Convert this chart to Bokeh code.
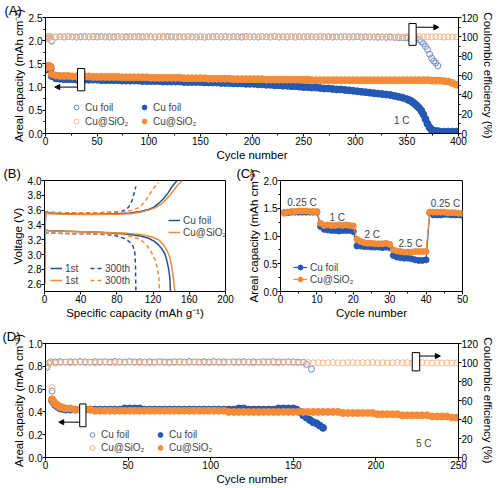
from bokeh.plotting import figure
from bokeh.models import (Range1d, LinearAxis, SingleIntervalTicker, PrintfTickFormatter,
                          Legend, LegendItem, Label, BoxAnnotation, Arrow, NormalHead, Title)
from bokeh.layouts import column, row
from bokeh.embed import file_html
from bokeh.resources import INLINE

# ---------------- Panel A (1 C cycling, 400 cycles) ----------------
a_cu_cap_x = [1, 2, 3, 4, 5] + list(range(6, 354, 4)) + list(range(352, 384, 2)) + list(range(386, 401, 4))
a_cu_cap = [1.38, 1.42, 1.43, 1.42, 1.40,
            1.24, 1.19, 1.18, 1.17, 1.17, 1.17, 1.16, 1.16, 1.16, 1.16,
            1.16, 1.16, 1.15, 1.15, 1.15, 1.15, 1.15, 1.14, 1.14, 1.14,
            1.14, 1.14, 1.13, 1.13, 1.13, 1.13, 1.13, 1.12, 1.12, 1.12,
            1.12, 1.12, 1.11, 1.11, 1.11, 1.11, 1.11, 1.10, 1.10, 1.10,
            1.10, 1.09, 1.09, 1.09, 1.08, 1.08, 1.08, 1.07, 1.07, 1.07,
            1.06, 1.06, 1.05, 1.05, 1.04, 1.04, 1.03, 1.03, 1.02, 1.02,
            1.01, 1.00, 1.00, 0.99, 0.99, 0.98, 0.97, 0.97, 0.96, 0.95,
            0.95, 0.94, 0.93, 0.92, 0.91, 0.90, 0.89, 0.88, 0.87, 0.86,
            0.85, 0.84, 0.83, 0.81, 0.79, 0.77, 0.74,
            0.72, 0.70, 0.67, 0.63, 0.59, 0.55, 0.49, 0.41, 0.31, 0.21, 0.13, 0.08, 0.06, 0.05, 0.05, 0.04,
            0.04, 0.04, 0.04, 0.04]

a_si_cap_x = [1, 2, 3, 4, 5] + list(range(6, 401, 4))
a_si_cap = [1.42, 1.45, 1.46, 1.45, 1.44,
            1.28, 1.25, 1.24, 1.24, 1.24, 1.23, 1.23, 1.23, 1.23, 1.23,
            1.22, 1.22, 1.22, 1.22, 1.22, 1.22, 1.22, 1.21, 1.21, 1.21,
            1.21, 1.21, 1.21, 1.21, 1.20, 1.20, 1.20, 1.20, 1.20, 1.20,
            1.20, 1.20, 1.19, 1.19, 1.19, 1.19, 1.19, 1.19, 1.18, 1.18,
            1.18, 1.18, 1.18, 1.18, 1.17, 1.17, 1.17, 1.17, 1.17, 1.17,
            1.17, 1.17, 1.16, 1.16, 1.16, 1.16, 1.16, 1.16, 1.16, 1.16,
            1.16, 1.16, 1.16, 1.15, 1.15, 1.15, 1.15, 1.15, 1.15, 1.15,
            1.15, 1.15, 1.15, 1.15, 1.15, 1.15, 1.15, 1.15, 1.15, 1.15,
            1.15, 1.15, 1.15, 1.15, 1.15, 1.15, 1.15, 1.15, 1.15, 1.15,
            1.15, 1.15, 1.14, 1.14, 1.14, 1.13, 1.12, 1.09, 1.05]

a_cu_ce_x = [1, 2, 3, 4, 5] + list(range(6, 362, 4)) + list(range(362, 382, 2))
a_cu_ce = [98.5, 99.8, 100.0, 100.2, 99.9,
           96.0, 99.8, 100.1, 99.9, 100.3, 100.0, 99.7, 100.2, 100.0, 99.9,
           100.2, 99.8, 100.4, 99.9, 100.1, 99.7, 100.3, 100.0, 99.8, 100.2,
           99.9, 100.3, 99.8, 100.1, 100.0, 99.7, 100.2, 99.9, 100.4, 100.0,
           99.8, 100.1, 99.9, 100.3, 100.0, 99.8, 100.2, 99.7, 100.1, 100.0,
           100.3, 99.9, 100.0, 99.8, 100.2, 100.1, 99.7, 100.3, 99.9, 100.0,
           99.8, 100.2, 100.0, 99.9, 100.4, 99.8, 100.1, 99.9, 100.2, 99.7,
           100.1, 99.9, 100.3, 100.0, 99.8, 100.2, 99.9, 100.1, 99.8, 100.0,
           99.9, 100.2, 99.8, 100.0, 100.1, 99.7, 100.0, 99.9, 99.8, 99.6,
           99.8, 99.5, 99.7, 99.4, 99.2, 99.0, 98.8, 98.6, 98.3,
           97.0, 95.0, 93.0, 90.0, 87.0, 82.0, 78.0, 75.0, 73.0, 70.0]

a_si_ce_x = [1, 2, 3, 4, 5] + list(range(6, 401, 4))
a_si_ce = [99.2, 100.4, 100.1, 100.3, 100.0,
           95.0, 99.6, 100.2, 99.8, 100.4, 99.9, 100.1, 99.7, 100.3, 100.0,
           99.8, 100.5, 99.9, 100.2, 99.6, 100.3, 100.0, 99.8, 100.4, 99.9,
           100.2, 99.7, 100.4, 99.9, 100.1, 99.6, 100.3, 100.0, 99.8, 100.5,
           99.9, 100.2, 99.7, 100.4, 100.0, 99.8, 100.3, 99.6, 100.1, 100.2,
           100.0, 99.8, 100.4, 99.9, 100.2, 99.7, 100.3, 100.0, 99.9, 100.1,
           99.7, 100.3, 100.0, 99.8, 100.5, 99.9, 100.1, 99.6, 100.2, 100.0,
           100.1, 99.8, 100.3, 99.9, 100.0, 100.4, 99.7, 100.2, 99.9, 100.1,
           99.8, 100.2, 100.0, 99.7, 100.3, 99.9, 100.4, 100.0, 99.8, 100.2,
           100.0, 99.9, 100.3, 99.8, 100.1, 99.7, 100.2, 100.0, 99.9, 100.3,
           99.8, 100.1, 99.9, 100.2, 100.0, 99.7, 100.1, 99.9, 100.0]

# ---------------- Panel B (voltage profiles) ----------------
b_cu_1st_chg_x = [0, 1, 2, 5, 20, 40, 60, 80, 95, 106, 115, 121, 127, 132, 137, 141, 146.6]
b_cu_1st_chg_v = [2.6, 3.5, 3.58, 3.56, 3.55, 3.545, 3.545, 3.55, 3.56, 3.58, 3.61, 3.64, 3.70, 3.76, 3.84, 3.92, 4.0]
b_si_1st_chg_x = [0, 1, 2, 5, 20, 40, 60, 80, 95, 106, 115, 122, 129, 135.6, 141, 146, 152]
b_si_1st_chg_v = [2.6, 3.5, 3.57, 3.55, 3.545, 3.54, 3.54, 3.545, 3.55, 3.57, 3.60, 3.63, 3.68, 3.76, 3.84, 3.92, 4.0]
b_cu_300_chg_x = [0, 3, 20, 40, 60, 75, 85, 90, 93, 95, 97, 99, 101]
b_cu_300_chg_v = [3.59, 3.57, 3.565, 3.565, 3.565, 3.57, 3.58, 3.61, 3.64, 3.68, 3.74, 3.83, 3.92]
b_si_300_chg_x = [0, 3, 20, 40, 60, 80, 95, 102, 106, 112, 117, 122, 126]
b_si_300_chg_v = [3.58, 3.57, 3.565, 3.565, 3.565, 3.57, 3.59, 3.62, 3.65, 3.73, 3.83, 3.92, 3.97]

b_cu_1st_dis_x = [0, 5, 33, 60, 87.6, 106, 115, 121, 126, 130, 133, 135.6, 137.5, 138.5, 139.2]
b_cu_1st_dis_v = [3.33, 3.32, 3.31, 3.30, 3.28, 3.25, 3.22, 3.18, 3.13, 3.07, 3.01, 2.90, 2.78, 2.68, 2.5]
b_si_1st_dis_x = [0, 5, 33, 60, 87.6, 106, 118, 126, 131, 135.6, 138.5, 141, 142.8, 144]
b_si_1st_dis_v = [3.33, 3.32, 3.31, 3.30, 3.29, 3.27, 3.24, 3.20, 3.14, 3.05, 2.96, 2.81, 2.65, 2.5]
b_cu_300_dis_x = [0, 5, 30, 50, 69, 80, 87.6, 93, 97, 99.8, 100.5, 101]
b_cu_300_dis_v = [3.30, 3.29, 3.28, 3.28, 3.27, 3.25, 3.22, 3.18, 3.14, 3.03, 2.85, 2.5]
b_si_300_dis_x = [0, 5, 30, 60, 87.6, 100, 106, 111, 115, 119, 122.6, 125, 126.3, 127]
b_si_300_dis_v = [3.30, 3.29, 3.285, 3.28, 3.27, 3.23, 3.20, 3.15, 3.09, 3.01, 2.92, 2.80, 2.70, 2.5]

# ---------------- Panel C (rate capability) ----------------
c_cycles = list(range(1, 51))
c_cu = [1.42, 1.42, 1.43, 1.43, 1.43, 1.43, 1.43, 1.43, 1.43, 1.43,
        1.17, 1.12, 1.11, 1.10, 1.10, 1.09, 1.10, 1.10, 1.10, 1.08,
        0.82, 0.82, 0.81, 0.81, 0.80, 0.80, 0.80, 0.79, 0.80, 0.79,
        0.65, 0.62, 0.61, 0.60, 0.60, 0.59, 0.57, 0.56, 0.56, 0.57,
        1.42, 1.38, 1.38, 1.38, 1.39, 1.39, 1.38, 1.38, 1.38, 1.37]
c_si = [1.41, 1.43, 1.44, 1.44, 1.45, 1.45, 1.45, 1.44, 1.44, 1.44,
        1.23, 1.19, 1.20, 1.19, 1.19, 1.20, 1.19, 1.20, 1.19, 1.18,
        0.94, 0.90, 0.88, 0.87, 0.87, 0.86, 0.86, 0.86, 0.87, 0.85,
        0.75, 0.73, 0.72, 0.71, 0.71, 0.71, 0.72, 0.72, 0.72, 0.72,
        1.43, 1.43, 1.43, 1.43, 1.43, 1.42, 1.42, 1.42, 1.41, 1.41]
c_rate_labels = ["0.25 C", "1 C", "2 C", "2.5 C", "0.25 C"]
c_rate_x = [5.9, 15.6, 25.2, 35.7, 45.3]
c_rate_y = [1.61, 1.33, 1.03, 0.87, 1.59]

# ---------------- Panel D (5 C cycling, 250 cycles) ----------------
d_si_cap_x = [4, 5, 6, 7, 8, 9, 10] + list(range(12, 251, 3))
d_si_cap = [0.51, 0.49, 0.47, 0.46, 0.45, 0.44, 0.44,
            0.43, 0.43, 0.42, 0.42, 0.42, 0.42, 0.41, 0.41, 0.41, 0.41,
            0.41, 0.41, 0.41, 0.41, 0.41, 0.41, 0.41, 0.41, 0.41, 0.41,
            0.41, 0.41, 0.41, 0.41, 0.41, 0.41, 0.41, 0.41, 0.41, 0.41,
            0.41, 0.41, 0.41, 0.40, 0.40, 0.40, 0.40, 0.40, 0.40, 0.40,
            0.40, 0.40, 0.40, 0.40, 0.40, 0.40, 0.40, 0.40, 0.40, 0.40,
            0.40, 0.40, 0.40, 0.40, 0.40, 0.40, 0.39, 0.39, 0.39, 0.39,
            0.39, 0.39, 0.39, 0.38, 0.38, 0.38, 0.38, 0.38, 0.37, 0.37,
            0.37, 0.37, 0.37, 0.37, 0.36, 0.36, 0.36, 0.36, 0.35, 0.35]
d_cu_cap_x = [4, 5, 6, 7, 8, 9, 10] + list(range(12, 151, 3)) + list(range(152, 170, 2))
d_cu_cap = [0.50, 0.48, 0.46, 0.45, 0.44, 0.43, 0.43,
            0.42, 0.42, 0.42, 0.42, 0.42, 0.42, 0.42, 0.42, 0.42, 0.42,
            0.42, 0.42, 0.43, 0.43, 0.43, 0.43, 0.42, 0.42, 0.42, 0.42,
            0.42, 0.42, 0.42, 0.42, 0.42, 0.42, 0.42, 0.42, 0.42, 0.42,
            0.42, 0.42, 0.42, 0.42, 0.42, 0.43, 0.43, 0.42, 0.42, 0.42,
            0.42, 0.42, 0.42, 0.43, 0.43, 0.43, 0.43,
            0.42, 0.40, 0.37, 0.35, 0.33, 0.31, 0.30, 0.28, 0.26]
d_si_ce_x = [1, 2, 3, 4] + list(range(6, 251, 3))
d_si_ce = [96.0, 99.0, 100.0, 73.5,
           99.2, 99.8, 100.1, 99.6, 99.9, 100.2, 99.7, 100.0, 99.5, 99.9,
           100.1, 99.6, 99.8, 100.0, 99.7, 100.2, 99.9, 99.6, 100.0, 99.8,
           99.7, 100.1, 99.8, 99.5, 99.9, 100.0, 99.7, 99.8, 100.1, 99.6,
           99.9, 99.7, 100.0, 99.8, 99.6, 100.1, 99.9, 99.7, 99.8, 100.0,
           99.6, 99.9, 99.8, 100.0, 99.7, 99.5, 99.9, 100.1, 99.8, 99.6,
           99.8, 100.0, 99.7, 99.9, 99.6, 99.8, 100.0, 99.7, 99.5, 99.8,
           99.9, 99.6, 99.8, 99.7, 100.0, 99.6, 99.8, 99.5, 99.7, 99.9,
           99.6, 99.8, 99.5, 99.7, 99.9, 99.6, 99.4, 99.7, 99.5, 99.6,
           99.4, 99.5]
d_cu_ce_x = [1, 2, 3, 4] + list(range(6, 157, 3)) + [158, 161]
d_cu_ce = [95.0, 99.5, 100.5, 70.0,
           100.6, 100.9, 100.4, 100.8, 100.5, 101.0, 100.7, 100.4, 100.9, 100.6,
           100.8, 100.5, 101.1, 100.7, 100.4, 100.9, 100.6, 100.8, 100.3, 100.7,
           100.5, 100.9, 100.6, 100.4, 100.8, 100.7, 100.5, 101.0, 100.6, 100.4,
           100.8, 100.6, 100.9, 100.5, 100.7, 100.4, 100.8, 100.6, 100.9, 100.5,
           100.7, 100.4, 100.8, 100.6, 100.9, 100.7, 100.5, 100.8, 100.6, 100.4,
           100.3,
           98.0, 93.0]

# ---------------- styling ----------------
FONT = "Liberation Sans"
TICK_FS = "10px"
TITLE_FS = "11.5px"
TEXT_FS = "10px"
BLUE = "#2459b3"
ORANGE = "#f38b38"
BLUE_OPEN = "#6f8cc6"
ORANGE_OPEN = "#f4b98c"
BLUE_LINE = "#1f4f9e"
ORANGE_LINE = "#ee8b3a"
CE_TITLE = "Coulombic efficiency (%)"


def make_fig(w, h, xr, yr, bl, br, bt, bb):
    p = figure(width=w, height=h, x_range=Range1d(*xr), y_range=Range1d(*yr),
               output_backend="svg", toolbar_location=None,
               min_border_left=bl, min_border_right=br, min_border_top=bt, min_border_bottom=bb)
    p.xgrid.visible = False
    p.ygrid.visible = False
    p.outline_line_color = "black"
    p.outline_line_alpha = 1
    p.outline_line_width = 1
    p.background_fill_color = "white"
    p.border_fill_color = "white"
    return p


def style_axis(ax, interval, nminor, fmt, label):
    ax.ticker = SingleIntervalTicker(interval=interval, num_minor_ticks=nminor)
    ax.formatter = PrintfTickFormatter(format=fmt)
    ax.major_tick_in = 0
    ax.major_tick_out = 3
    ax.minor_tick_in = 0
    ax.minor_tick_out = 2
    ax.axis_line_color = "black"
    ax.major_tick_line_color = "black"
    ax.minor_tick_line_color = "black"
    ax.major_label_text_font = FONT
    ax.major_label_text_font_size = TICK_FS
    ax.major_label_text_color = "black"
    ax.major_label_standoff = 0
    ax.axis_label = label
    ax.axis_label_text_font = FONT
    ax.axis_label_text_font_size = TITLE_FS
    ax.axis_label_text_font_style = "normal"
    ax.axis_label_text_color = "black"
    ax.axis_label_standoff = 1


def add_legend(p, items, loc, ncols, label_w, row_h, glyph_w):
    leg = Legend(items=items, location=loc, ncols=ncols, orientation="vertical",
                 label_text_font=FONT, label_text_font_size=TEXT_FS,
                 label_width=label_w, label_height=row_h, glyph_height=row_h, glyph_width=glyph_w,
                 spacing=0, padding=0, margin=0, label_standoff=3,
                 background_fill_alpha=0, border_line_alpha=0)
    p.add_layout(leg)


def bracket(p, left, right, bottom, top, x0, x1, y):
    p.add_layout(BoxAnnotation(left=left, right=right, bottom=bottom, top=top,
                               fill_color="white", fill_alpha=1,
                               line_color="black", line_alpha=1, line_width=1))
    p.add_layout(Arrow(end=NormalHead(size=5, fill_color="black", line_color="black"),
                       x_start=x0, y_start=y, x_end=x1, y_end=y, line_width=1, line_color="black"))


def letter(p, txt, off):
    p.add_layout(Title(text=txt, align="left", offset=off, standoff=0,
                       text_font=FONT, text_font_size="13px", text_font_style="normal",
                       text_color="black"), "above")


def note(p, x, y, txt):
    p.add_layout(Label(x=x, y=y, text=txt, text_font=FONT, text_font_size=TEXT_FS,
                       text_baseline="middle", text_align="center"))


# ---------- A ----------
pA = make_fig(500, 163, (0, 400), (0, 2.5), 43, 42, 15, 28)
pA.extra_y_ranges = {"ce": Range1d(0, 120)}
style_axis(pA.below[0], 50, 2, "%d", "Cycle number")
style_axis(pA.left[0], 0.5, 2, "%.1f", "Areal capacity (mAh cm\u207b\u00b2)")
axA = LinearAxis(y_range_name="ce")
style_axis(axA, 20, 2, "%d", CE_TITLE)
pA.add_layout(axA, "right")

rA_cu_ce = pA.scatter(a_cu_ce_x, a_cu_ce, marker="circle", size=6, fill_color=None,
                      line_color=BLUE_OPEN, line_width=1, y_range_name="ce")
rA_si_ce = pA.scatter(a_si_ce_x, a_si_ce, marker="circle", size=6, fill_color=None,
                      line_color=ORANGE_OPEN, line_width=1, y_range_name="ce")
rA_cu = pA.scatter(a_cu_cap_x, a_cu_cap, marker="circle", size=7, fill_color=BLUE, line_color=BLUE)
rA_si = pA.scatter(a_si_cap_x, a_si_cap, marker="circle", size=7, fill_color=ORANGE, line_color=ORANGE)

add_legend(pA, [LegendItem(label="Cu foil", renderers=[rA_cu_ce]),
                LegendItem(label="Cu@SiO\u2082", renderers=[rA_si_ce]),
                LegendItem(label="Cu foil", renderers=[rA_cu]),
                LegendItem(label="Cu@SiO\u2082", renderers=[rA_si])],
           (25, 5), 2, 53, 14, 12)
bracket(pA, 31, 38, 0.92, 1.40, 31, 9, 1.0)
bracket(pA, 352, 359, 1.90, 2.37, 359, 381, 2.29)
note(pA, 345, 0.27, "1 C")
letter(pA, "(A)", -41)

# ---------- B ----------
pB = make_fig(236, 158, (0, 200), (2.5, 4.0), 44, 11, 17, 27)
style_axis(pB.below[0], 40, 1, "%d", "Specific capacity (mAh g\u207b\u00b9)")
style_axis(pB.left[0], 0.2, 1, "%.1f", "Voltage (V)")
DASH = "4 3"
rB_cu1 = pB.line(b_cu_1st_chg_x, b_cu_1st_chg_v, line_color=BLUE_LINE, line_width=1.5)
pB.line(b_cu_1st_dis_x, b_cu_1st_dis_v, line_color=BLUE_LINE, line_width=1.5)
rB_cu3 = pB.line(b_cu_300_chg_x, b_cu_300_chg_v, line_color=BLUE_LINE, line_width=1.5, line_dash=DASH)
pB.line(b_cu_300_dis_x, b_cu_300_dis_v, line_color=BLUE_LINE, line_width=1.5, line_dash=DASH)
rB_si1 = pB.line(b_si_1st_chg_x, b_si_1st_chg_v, line_color=ORANGE_LINE, line_width=1.5)
pB.line(b_si_1st_dis_x, b_si_1st_dis_v, line_color=ORANGE_LINE, line_width=1.5)
rB_si3 = pB.line(b_si_300_chg_x, b_si_300_chg_v, line_color=ORANGE_LINE, line_width=1.5, line_dash=DASH)
pB.line(b_si_300_dis_x, b_si_300_dis_v, line_color=ORANGE_LINE, line_width=1.5, line_dash=DASH)

add_legend(pB, [LegendItem(label="Cu foil", renderers=[rB_cu1]),
                LegendItem(label="Cu@SiO\u2082", renderers=[rB_si1])],
           (124, 53), 1, 40, 12, 12)
add_legend(pB, [LegendItem(label="1st", renderers=[rB_cu1]),
                LegendItem(label="1st", renderers=[rB_si1]),
                LegendItem(label="300th", renderers=[rB_cu3]),
                LegendItem(label="300th", renderers=[rB_si3])],
           (6, 5), 2, 25, 12, 12)
letter(pB, "(B)", -41)

# ---------- C ----------
pC = make_fig(264, 158, (0, 50), (0, 2.0), 44, 38, 17, 27)
style_axis(pC.below[0], 10, 2, "%d", "Cycle number")
style_axis(pC.left[0], 0.5, 2, "%.1f", "Areal capacity (mAh cm\u207b\u00b2)")
lC_cu = pC.line(c_cycles, c_cu, line_color=BLUE, line_width=1.2)
sC_cu = pC.scatter(c_cycles, c_cu, marker="circle", size=6, fill_color=BLUE, line_color=BLUE)
lC_si = pC.line(c_cycles, c_si, line_color=ORANGE, line_width=1.2)
sC_si = pC.scatter(c_cycles, c_si, marker="circle", size=6, fill_color=ORANGE, line_color=ORANGE)
for lx, ly, lt in zip(c_rate_x, c_rate_y, c_rate_labels):
    note(pC, lx, ly, lt)
add_legend(pC, [LegendItem(label="Cu foil", renderers=[lC_cu, sC_cu]),
                LegendItem(label="Cu@SiO\u2082", renderers=[lC_si, sC_si])],
           (13, 6), 1, 40, 12, 14)
letter(pC, "(C)", -44)

# ---------- D ----------
pD = make_fig(500, 167, (0, 250), (0, 1.0), 45, 40, 22, 31)
pD.extra_y_ranges = {"ce": Range1d(0, 120)}
style_axis(pD.below[0], 50, 1, "%d", "Cycle number")
style_axis(pD.left[0], 0.2, 1, "%.1f", "Areal capacity (mAh cm\u207b\u00b2)")
axD = LinearAxis(y_range_name="ce")
style_axis(axD, 20, 1, "%d", CE_TITLE)
pD.add_layout(axD, "right")

rD_cu_ce = pD.scatter(d_cu_ce_x, d_cu_ce, marker="circle", size=6, fill_color=None,
                      line_color=BLUE_OPEN, line_width=1, y_range_name="ce")
rD_si_ce = pD.scatter(d_si_ce_x, d_si_ce, marker="circle", size=6, fill_color=None,
                      line_color=ORANGE_OPEN, line_width=1, y_range_name="ce")
rD_cu = pD.scatter(d_cu_cap_x, d_cu_cap, marker="circle", size=7, fill_color=BLUE, line_color=BLUE)
rD_si = pD.scatter(d_si_cap_x, d_si_cap, marker="circle", size=7, fill_color=ORANGE, line_color=ORANGE)

add_legend(pD, [LegendItem(label="Cu foil", renderers=[rD_cu_ce]),
                LegendItem(label="Cu@SiO\u2082", renderers=[rD_si_ce]),
                LegendItem(label="Cu foil", renderers=[rD_cu]),
                LegendItem(label="Cu@SiO\u2082", renderers=[rD_si])],
           (41, 3), 2, 53, 13, 12)
bracket(pD, 20.7, 24.5, 0.27, 0.47, 20.7, 8, 0.31)
bracket(pD, 222, 226.5, 0.76, 0.92, 226.5, 239, 0.89)
note(pD, 229, 0.12, "5 C")
letter(pD, "(D)", -43)

layout = column(pA, row(pB, pC), pD)
open("out.html", "w").write(file_html(layout, INLINE))
